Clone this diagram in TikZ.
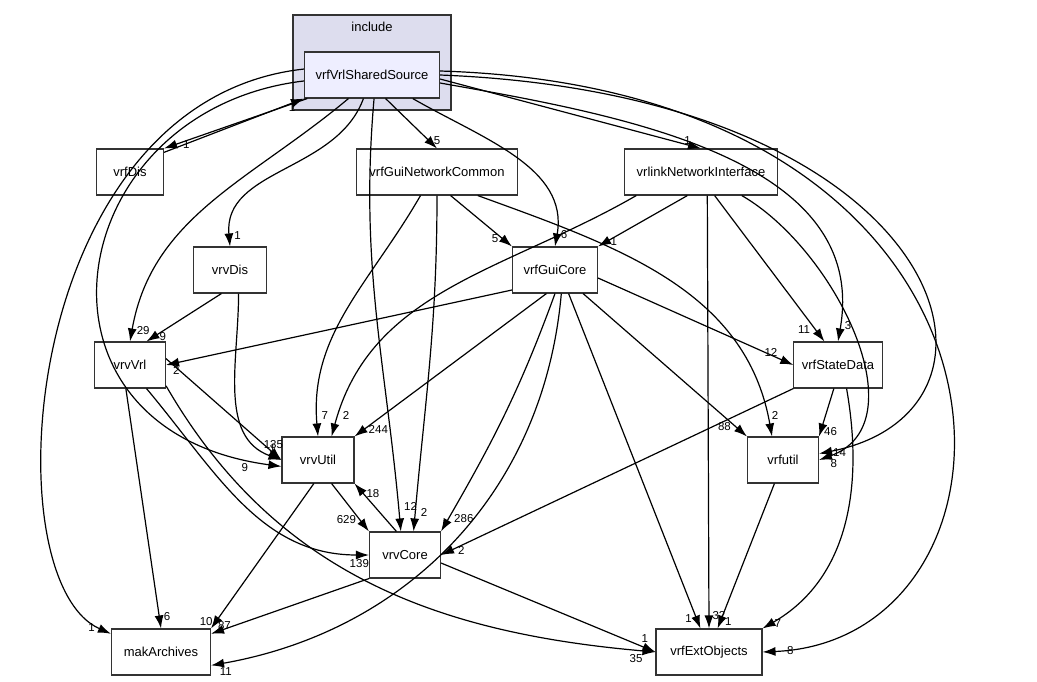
\documentclass[tikz,border=0pt]{standalone}
\usepackage{fontspec}
\setmainfont{Liberation Sans}
\usetikzlibrary{positioning,arrows.meta}
\tikzset{>={Latex[length=13pt,width=9pt]}}
\tikzset{
  dir/.style={draw=black!80,line width=1.1pt,fill=white,minimum height=46pt,inner xsep=8pt,font=\fontsize{13}{15}\selectfont},
  num/.style={font=\fontsize{11.5}{13}\selectfont,inner sep=1pt},
  dep/.style={->,line width=1.2pt,draw=black}
}
\begin{document}
\begin{tikzpicture}[x=1pt,y=-1pt]
\useasboundingbox (0,0) rectangle (1037,681);
\draw[black!80,line width=1.1pt,fill={rgb,255:red,221;green,221;blue,238}] (293,15) rectangle (451,110);
\node[font=\fontsize{13}{15}\selectfont] at (372,27) {include};
\node[dir,fill={rgb,255:red,238;green,238;blue,255},minimum width=135pt] (src) at (372,75) {vrfVrlSharedSource};
\node[dir,minimum width=67pt] (dis) at (130,172) {vrfDis};
\node[dir,minimum width=161pt] (gnc) at (437,172) {vrfGuiNetworkCommon};
\node[dir,minimum width=153pt] (vni) at (701,172) {vrlinkNetworkInterface};
\node[dir,minimum width=73pt] (vdis) at (230,270) {vrvDis};
\node[dir,minimum width=85pt] (gcore) at (555,270) {vrfGuiCore};
\node[dir,minimum width=71pt] (vrl) at (130,365) {vrvVrl};
\node[dir,minimum width=84pt] (state) at (838,365) {vrfStateData};
\node[dir,minimum width=72pt] (util) at (318,460) {vrvUtil};
\node[dir,minimum width=71pt] (futil) at (783,460) {vrfutil};
\node[dir,minimum width=71pt] (core) at (405,555) {vrvCore};
\node[dir,minimum width=99pt] (mak) at (161,652) {makArchives};
\node[dir,minimum width=106pt] (ext) at (709,652) {vrfExtObjects};

% from the shared source
\draw[dep] (src.175) .. controls (20,100) and (-10,580) .. node[num,pos=0.97,left=4pt] {1} (mak.160);
\draw[dep] (src.200) -- node[num,pos=0.92,right=6pt] {1} (dis.north east);
\draw[dep] (dis.30) -- node[num,pos=0.96,below left=2pt] {1} (src.south west);
\draw[dep] (src.225) to[out=220,in=80] node[num,pos=0.97,right=3pt] {29} (vrl.north);
\draw[dep] (src.185) .. controls (60,110) and (10,430) .. node[num,pos=0.96,below left=1pt] {9} (util.190);
\draw[dep] (src.250) to[out=250,in=95] node[num,pos=0.95,right=3pt] {1} (vdis.north);
\draw[dep] (src.275) to[out=265,in=95] node[num,pos=0.95,right=4pt] {12} (core.100);
\draw[dep] (src.300) -- node[num,pos=0.85,right=3pt] {5} (gnc.north);
\draw[dep] (src.330) to[out=-30,in=80] node[num,pos=0.95,right=3pt] {6} (gcore.north);
\draw[dep] (src.east) ++(0,4) -- node[num,pos=0.97,above left=1pt] {1} (vni.north);
\draw[dep] (src.east) ++(0,8) to[out=-10,in=80] node[num,pos=0.97,right=3pt] {3} (state.north);
\draw[dep] (src.east) .. controls (950,95) and (1040,410) .. node[num,pos=0.99,right=6pt] {14} (futil.10);
\draw[dep] (src.east) ++(0,-4) .. controls (1060,90) and (1050,640) .. node[num,pos=0.98,right=6pt] {8} (ext.east);

% from vrfGuiNetworkCommon
\draw[dep] (gnc.235) to[out=240,in=95] node[num,pos=0.93,right=3pt] {7} (util.north);
\draw[dep] (gnc.270) to[out=270,in=85] node[num,pos=0.95,right=4pt] {2} (core.70);
\draw[dep] (gnc.300) -- node[num,pos=0.85,left=3pt] {5} (gcore.north west);
\draw[dep] (gnc.330) to[out=-20,in=100] node[num,pos=0.95,right=3pt] {2} (futil.115);

% from vrlinkNetworkInterface
\draw[dep] (vni.200) to[out=210,in=75] node[num,pos=0.95,right=3pt] {2} (util.60);
\draw[dep] (vni.240) -- node[num,pos=0.9,right=2pt] {1} (gcore.north east);
\draw[dep] (vni.285) -- node[num,pos=0.97,right=2pt] {32} (ext.north);
\draw[dep] (vni.300) -- node[num,pos=0.92,left=4pt] {11} (state.120);
\draw[dep] (vni.330) to[out=-30,in=20] node[num,pos=0.97,below right=2pt] {8} (futil.east);

% from vrvDis
\draw[dep] (vdis.250) -- node[num,pos=0.9,right=4pt] {9} (vrl.55);
\draw[dep] (vdis.290) to[out=270,in=160] node[num,pos=0.95,above=2pt] {1} (util.west);

% from vrfGuiCore
\draw[dep] (gcore.west) ++(0,20) -- node[num,pos=0.97,below=2pt] {2} (vrl.east);
\draw[dep] (gcore.250) -- node[num,pos=0.95,right=3pt] {244} (util.north east);
\draw[dep] (gcore.270) to[out=250,in=60] node[num,pos=0.95,right=4pt] {286} (core.north east);
\draw[dep] (gcore.285) to[out=265,in=10] node[num,pos=0.99,below right=2pt] {11} (mak.-15);
\draw[dep] (gcore.300) -- node[num,pos=0.97,left=3pt] {1} (ext.110);
\draw[dep] (gcore.320) -- node[num,pos=0.93,left=3pt] {88} (futil.north west);
\draw[dep] (gcore.east) ++(0,8) -- node[num,pos=0.93,above left=1pt] {12} (state.west);

% from vrvVrl
\draw[dep] (vrl.10) -- node[num,pos=0.93,above=3pt] {135} (util.west);
\draw[dep] (vrl.305) to[out=-50,in=180] node[num,pos=0.97,below=3pt] {139} (core.west);
\draw[dep] (vrl.260) -- node[num,pos=0.95,right=3pt] {6} (mak.north);
\draw[dep] (vrl.330) to[out=-60,in=175] node[num,pos=0.97,below=3pt] {35} (ext.west);

% from vrfStateData
\draw[dep] (state.south west) -- node[num,pos=0.97,right=5pt] {2} (core.east);
\draw[dep] (state.260) -- node[num,pos=0.9,right=2pt] {46} (futil.north east);
\draw[dep] (state.290) to[out=-80,in=30] node[num,pos=0.97,right=3pt] {7} (ext.north east);

% lower ones
\draw[dep] (util.300) -- node[num,pos=0.75,left=2pt] {629} (core.north west);
\draw[dep] (core.110) -- node[num,pos=0.8,right=2pt] {18} (util.south east);
\draw[dep] (util.260) -- node[num,pos=0.95,left=2pt] {10} (mak.north east);
\draw[dep] (core.south west) -- node[num,pos=0.97,above right=1pt] {87} (mak.20);
\draw[dep] (core.east) ++(0,8) -- node[num,pos=0.95,above=3pt] {1} (ext.west);
\draw[dep] (futil.250) -- node[num,pos=0.95,right=3pt] {1} (ext.70);
\end{tikzpicture}
\end{document}
